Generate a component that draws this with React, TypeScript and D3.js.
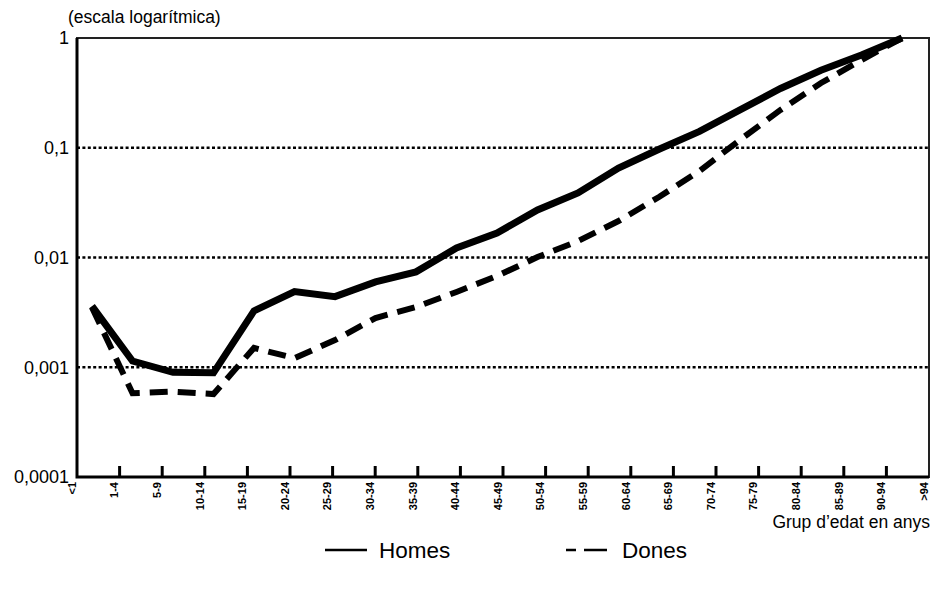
import { useEffect, useRef } from 'react'
import * as d3 from 'd3'

const ageGroups = ['<1', '1-4', '5-9', '10-14', '15-19', '20-24', '25-29', '30-34', '35-39', '40-44',
  '45-49', '50-54', '55-59', '60-64', '65-69', '70-74', '75-79', '80-84', '85-89', '90-94', '>94']

const homes = [0.0036, 0.00114, 0.0009, 0.00089, 0.00326, 0.0049, 0.0044, 0.006, 0.0074, 0.0122,
  0.0167, 0.0271, 0.0387, 0.0654, 0.097, 0.141, 0.221, 0.347, 0.509, 0.7, 1.0]

const dones = [0.0035, 0.00058, 0.0006, 0.00057, 0.0015, 0.00121, 0.00177, 0.00281, 0.00354, 0.00485,
  0.00678, 0.0101, 0.0141, 0.0215, 0.0356, 0.0615, 0.118, 0.221, 0.389, 0.63, 1.0]

const yTicks = [1, 0.1, 0.01, 0.001, 0.0001]
const yTickLabels = ['1', '0,1', '0,01', '0,001', '0,0001']
const gridValues = [0.1, 0.01, 0.001]

const W = 936
const H = 589
const FONT = '"Liberation Sans", Arial, sans-serif'

export default function App() {
  const svgRef = useRef<SVGSVGElement>(null)

  useEffect(() => {
    if (!svgRef.current) return
    const svg = d3.select(svgRef.current)
    svg.selectAll('*').remove()

    const left = 77, right = 929, top = 38, bottom = 477

    const y = d3.scaleLog().domain([0.0001, 1]).range([bottom, top])
    // labels and ticks span the full axis, data points sit on a slightly narrower run
    const xLabel = d3.scalePoint<string>().domain(ageGroups).range([left, right])
    const xData = d3.scalePoint<string>().domain(ageGroups).range([92, 902])

    svg.append('rect').attr('width', W).attr('height', H).attr('fill', '#fff')

    svg.append('text')
      .attr('x', 68).attr('y', 23)
      .attr('font-family', FONT).attr('font-size', 17.5)
      .text('(escala logarítmica)')

    // dotted gridlines
    svg.append('g').selectAll('line')
      .data(gridValues)
      .enter().append('line')
      .attr('x1', left).attr('x2', right)
      .attr('y1', d => y(d)).attr('y2', d => y(d))
      .attr('stroke', '#000').attr('stroke-width', 2.5)
      .attr('stroke-dasharray', '3,2.4')

    // frame: thin top/right, heavy left/bottom
    svg.append('rect')
      .attr('x', left).attr('y', top)
      .attr('width', right - left).attr('height', bottom - top)
      .attr('fill', 'none').attr('stroke', '#222').attr('stroke-width', 2)
    svg.append('path')
      .attr('d', `M${left},${top}V${bottom}H${right}`)
      .attr('fill', 'none').attr('stroke', '#000').attr('stroke-width', 3)

    // y labels
    svg.append('g').selectAll('text')
      .data(yTicks)
      .enter().append('text')
      .attr('x', 69).attr('y', d => y(d)).attr('dy', '0.35em')
      .attr('text-anchor', 'end')
      .attr('font-family', FONT).attr('font-size', 18)
      .text((d, i) => yTickLabels[i])

    // x ticks point up into the plot
    svg.append('g').selectAll('line')
      .data(ageGroups.slice(1, -1))
      .enter().append('line')
      .attr('x1', d => xLabel(d) || 0).attr('x2', d => xLabel(d) || 0)
      .attr('y1', bottom).attr('y2', bottom - 11)
      .attr('stroke', '#000').attr('stroke-width', 3)

    svg.append('g').selectAll('text')
      .data(ageGroups)
      .enter().append('text')
      .attr('transform', d => `translate(${(xLabel(d) || 0) - 5},482) rotate(-90)`)
      .attr('dy', '0.35em')
      .attr('text-anchor', 'end')
      .attr('font-family', FONT).attr('font-size', 11).attr('font-weight', 'bold')
      .text(d => d)

    const line = d3.line<number>()
      .x((d, i) => xData(ageGroups[i]) || 0)
      .y(d => y(d))

    svg.append('path')
      .attr('d', line(homes))
      .attr('fill', 'none').attr('stroke', '#000').attr('stroke-width', 7)

    svg.append('path')
      .attr('d', line(dones))
      .attr('fill', 'none').attr('stroke', '#000').attr('stroke-width', 6)
      .attr('stroke-dasharray', '18,10')

    svg.append('text')
      .attr('x', 930).attr('y', 528)
      .attr('text-anchor', 'end')
      .attr('font-family', FONT).attr('font-size', 17.5)
      .text('Grup d’edat en anys')

    // legend
    const lg = svg.append('g')
    lg.append('line')
      .attr('x1', 325).attr('x2', 367).attr('y1', 550).attr('y2', 550)
      .attr('stroke', '#000').attr('stroke-width', 2.5)
    lg.append('text')
      .attr('x', 379).attr('y', 558)
      .attr('font-family', FONT).attr('font-size', 22.5)
      .text('Homes')
    lg.append('line')
      .attr('x1', 566).attr('x2', 607).attr('y1', 550).attr('y2', 550)
      .attr('stroke', '#000').attr('stroke-width', 2.5)
      .attr('stroke-dasharray', '10,8,23,100')
    lg.append('text')
      .attr('x', 622).attr('y', 558)
      .attr('font-family', FONT).attr('font-size', 22.5)
      .text('Dones')
  }, [])

  return (
    <div style={{ position: 'absolute', left: 0, top: 0 }}>
      <svg ref={svgRef} width={W} height={H} style={{ display: 'block' }} />
    </div>
  )
}
